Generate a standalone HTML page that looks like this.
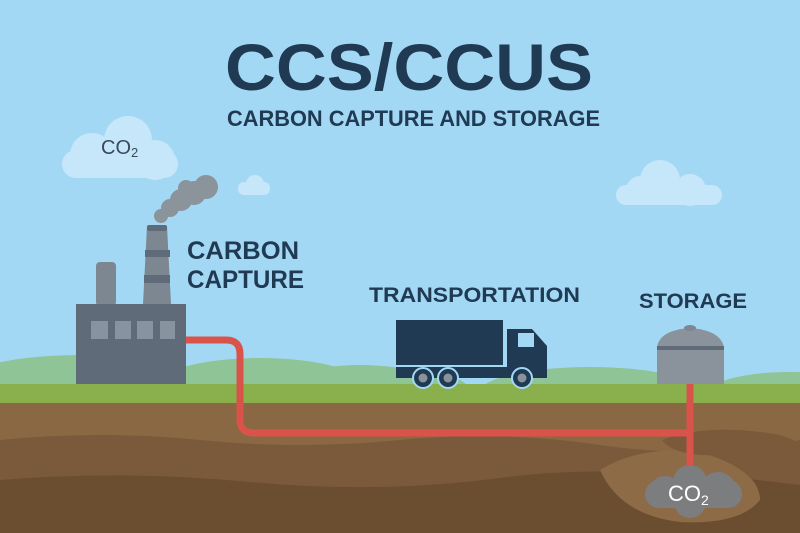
<!DOCTYPE html>
<html><head><meta charset="utf-8"><style>html,body{margin:0;padding:0;width:800px;height:533px;overflow:hidden}svg{display:block}text{font-family:"Liberation Sans",sans-serif;font-weight:bold}</style></head>
<body>
<svg width="800" height="533" viewBox="0 0 800 533" xmlns="http://www.w3.org/2000/svg">
<rect width="800" height="533" fill="#a3d8f5"/>
<text x="225" y="90" font-size="66" fill="#1f3a52" textLength="368" lengthAdjust="spacingAndGlyphs">CCS/CCUS</text>
<text x="227" y="126" font-size="22" fill="#1f3a52" textLength="373" lengthAdjust="spacingAndGlyphs">CARBON CAPTURE AND STORAGE</text>
<g fill="#c6e6fa">
<circle cx="128" cy="140" r="24"/><circle cx="92" cy="155" r="22"/><circle cx="155" cy="160" r="20"/><rect x="62" y="150" width="116" height="28" rx="14"/>
<circle cx="255" cy="184" r="9"/><rect x="238" y="182" width="32" height="13" rx="6"/>
<circle cx="660" cy="180" r="20"/><circle cx="640" cy="190" r="14"/><circle cx="690" cy="190" r="16"/><rect x="616" y="185" width="106" height="20" rx="10"/>
</g>
<text x="101" y="154" font-size="20" fill="#3a4a5a" style="font-weight:normal">CO<tspan font-size="13" dy="3">2</tspan></text>
<g fill="#8fc497">
<ellipse cx="80" cy="395" rx="140" ry="40"/><ellipse cx="260" cy="390" rx="110" ry="32"/><ellipse cx="360" cy="395" rx="90" ry="30"/>
<ellipse cx="590" cy="392" rx="110" ry="25"/><ellipse cx="790" cy="392" rx="80" ry="20"/><ellipse cx="420" cy="392" rx="50" ry="20"/>
</g>
<rect x="0" y="384" width="800" height="20" fill="#8ab04e"/>
<rect x="0" y="403" width="800" height="130" fill="#8a6844"/>
<path d="M0 440 Q100 430 200 440 T400 440 T600 445 T800 440 V533 H0Z" fill="#7a5a3a"/>
<path d="M0 480 Q120 470 250 482 T500 478 T800 485 V533 H0Z" fill="#6b4d30"/>
<path d="M600 470 Q640 445 700 452 Q760 470 760 500 Q740 525 680 522 Q620 515 600 470Z" fill="#8d6b47"/>
<path d="M662 440 Q700 425 760 432 Q800 436 800 450 L800 470 Q740 455 700 455 Q670 452 662 440Z" fill="#7a5a3a"/>
<g fill="#8b939b"><circle cx="161" cy="216" r="7"/><circle cx="170" cy="208" r="9"/><circle cx="181" cy="200" r="11"/><circle cx="194" cy="193" r="12"/><circle cx="206" cy="187" r="12"/><circle cx="186" cy="188" r="8"/></g>
<rect x="96" y="262" width="20" height="44" rx="4" fill="#7d8791"/>
<path d="M147 226 H167 L171 304 H143Z" fill="#7d8791"/>
<rect x="147" y="225" width="20" height="6" rx="2" fill="#5f6b78"/>
<rect x="145" y="250" width="25" height="7" fill="#5f6b78"/>
<rect x="144" y="275" width="26" height="8" fill="#5f6b78"/>
<rect x="76" y="304" width="110" height="80" fill="#5f6b78"/>
<g fill="#8893a0"><rect x="91" y="321" width="17" height="18"/><rect x="115" y="321" width="16" height="18"/><rect x="137" y="321" width="16" height="18"/><rect x="160" y="321" width="15" height="18"/></g>
<text x="187" y="259" font-size="25" fill="#1f3a52" textLength="112" lengthAdjust="spacingAndGlyphs">CARBON</text>
<text x="187" y="288" font-size="25" fill="#1f3a52" textLength="117" lengthAdjust="spacingAndGlyphs">CAPTURE</text>
<path d="M186 340 H226 Q240 340 240 354 V420 Q240 433 254 433 H690 M690 384 V465" fill="none" stroke="#d9534a" stroke-width="7"/>
<text x="369" y="302" font-size="21" fill="#1f3a52" textLength="211" lengthAdjust="spacingAndGlyphs">TRANSPORTATION</text>
<rect x="396" y="320" width="107" height="45" fill="#1f3a52"/>
<rect x="396" y="367" width="150" height="11" fill="#1f3a52"/>
<path d="M507 329 H532 L547 346 V378 H507Z" fill="#1f3a52"/>
<rect x="518" y="333" width="16" height="14" fill="#a3d8f5"/>
<g fill="#1f3a52" stroke="#a3d8f5" stroke-width="2"><circle cx="423" cy="378" r="10"/><circle cx="448" cy="378" r="10"/><circle cx="522" cy="378" r="10"/></g>
<g fill="#8a939b"><circle cx="423" cy="378" r="4.5"/><circle cx="448" cy="378" r="4.5"/><circle cx="522" cy="378" r="4.5"/></g>
<text x="639" y="308" font-size="21" fill="#1f3a52" textLength="108" lengthAdjust="spacingAndGlyphs">STORAGE</text>
<path d="M657 347 Q660 330 690 328 Q720 330 724 347 V384 H657Z" fill="#8a939b"/>
<ellipse cx="690" cy="328" rx="6" ry="3" fill="#7d8791"/>
<rect x="657" y="346" width="67" height="4" fill="#5f6b78"/>
<g fill="#7b7d7f"><circle cx="665" cy="492" r="16"/><circle cx="690" cy="482" r="17"/><circle cx="718" cy="490" r="18"/><circle cx="690" cy="502" r="16"/><rect x="645" y="480" width="97" height="28" rx="14"/></g>
<text x="668" y="501" font-size="22" fill="#ffffff" style="font-weight:normal">CO<tspan font-size="14" dy="4">2</tspan></text>
</svg>
</body></html>
